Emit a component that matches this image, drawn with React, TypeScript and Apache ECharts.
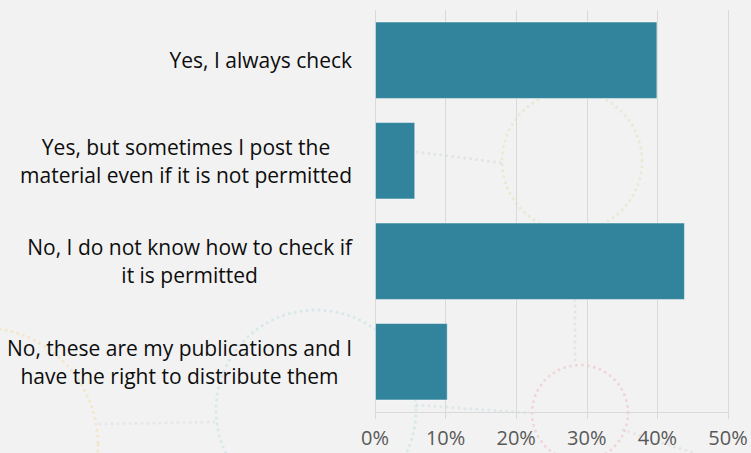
import React, { useEffect, useRef } from "react";
import * as echarts from "echarts";

const categories: string[] = [
  "Yes, I always check",
  "Yes, but sometimes I post the\nmaterial even if it is not permitted",
  "No, I do not know how to check if\nit is permitted",
  "No, these are my publications and I\nhave the right to distribute them",
];
const shares: number[] = [40.0, 5.7, 43.9, 10.3];
const xTicks: number[] = [0, 10, 20, 30, 40, 50];

const FONT = "'Open Sans', 'Noto Sans', sans-serif";

export default function App() {
  const ref = useRef<HTMLDivElement>(null);
  useEffect(() => {
    document.body.style.margin = "0";
    const chart = echarts.init(ref.current!, null, { renderer: "svg" });
    const dot = (color: string) => ({
      fill: "none",
      stroke: color,
      lineWidth: 3,
      lineDash: [0, 6],
      lineCap: "round",
    });
    chart.setOption({
      animation: false,
      backgroundColor: "#f2f2f2",
      graphic: [
        { type: "circle", z: -10, silent: true, shape: { cx: 572, cy: 161, r: 70 }, style: dot("rgba(220,228,180,0.5)") },
        { type: "circle", z: -10, silent: true, shape: { cx: 580, cy: 413, r: 48 }, style: dot("rgba(240,185,190,0.5)") },
        { type: "circle", z: -10, silent: true, shape: { cx: 316, cy: 410, r: 100 }, style: dot("rgba(180,220,225,0.45)") },
        { type: "circle", z: -10, silent: true, shape: { cx: -20, cy: 445, r: 118 }, style: dot("rgba(245,220,160,0.5)") },
        { type: "line", z: -10, silent: true, shape: { x1: 417, y1: 152, x2: 503, y2: 163 }, style: dot("rgba(205,215,220,0.5)") },
        { type: "line", z: -10, silent: true, shape: { x1: 100, y1: 424, x2: 215, y2: 422 }, style: dot("rgba(215,220,222,0.5)") },
        { type: "line", z: -10, silent: true, shape: { x1: 417, y1: 405, x2: 530, y2: 413 }, style: dot("rgba(200,222,225,0.5)") },
        { type: "line", z: -10, silent: true, shape: { x1: 575, y1: 300, x2: 575, y2: 362 }, style: dot("rgba(215,215,215,0.5)") },
        { type: "line", z: -10, silent: true, shape: { x1: 623, y1: 430, x2: 694, y2: 453 }, style: dot("rgba(215,215,215,0.5)") },
      ],
      grid: { left: 375, right: 23, top: 10, bottom: 41 },
      xAxis: {
        type: "value",
        min: xTicks[0],
        max: xTicks[xTicks.length - 1],
        interval: 10,
        axisLine: { show: true, lineStyle: { color: "#d9d9d9", width: 1 } },
        axisTick: { show: true, length: 7, lineStyle: { color: "#d9d9d9" } },
        splitLine: { show: true, lineStyle: { color: "#d9d9d9", width: 1 } },
        axisLabel: {
          formatter: (v: number) => `${v}%`,
          fontFamily: FONT,
          fontSize: 20,
          color: "#595959",
          margin: 15,
        },
      },
      yAxis: {
        type: "category",
        inverse: true,
        data: categories,
        axisLine: { show: false },
        axisTick: { show: false },
        axisLabel: {
          margin: 23,
          formatter: (v: string) =>
            v.split("\n").map((s) => `{c|${s}}`).join("\n"),
          rich: {
            c: {
              fontFamily: FONT,
              fontSize: 21,
              color: "#0d0d0d",
              lineHeight: 28,
              align: "center",
            },
          },
        },
      },
      series: [
        {
          type: "bar",
          data: shares,
          barCategoryGap: "23%",
          itemStyle: {
            color: "#31849b",
            borderColor: "rgba(255,255,255,0.45)",
            borderWidth: 1,
          },
        },
      ],
    });
    return () => chart.dispose();
  }, []);
  return <div ref={ref} style={{ width: 751, height: 453 }} />;
}
